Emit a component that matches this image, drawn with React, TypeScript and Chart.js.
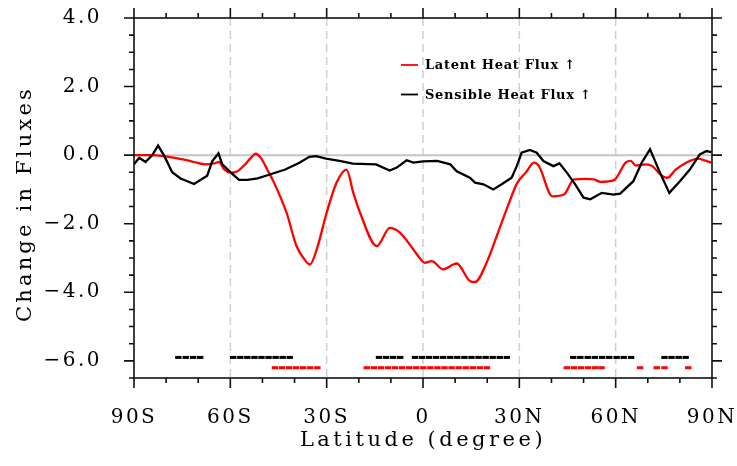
import { useEffect, useRef } from 'react';
import { Chart, registerables } from 'chart.js';

Chart.register(...registerables);

// ---------- data ----------
const latentLat = [
  -90, -85, -80.7, -74.4, -71.3, -67.7, -65.1, -63.5, -61.9, -59.9, -57.8, -55.7, -53.6, -52.1, -50.5,
  -48.5, -46.5, -42.5, -39.4, -37.3, -35.2, -33.1, -30.0, -26.9, -23.8, -21.7, -19.6, -14.4, -10.3,
  -7.2, -3.0, -0.6, 0.6, 2.7, 6.3, 9.4, 10.5, 14.6, 16.2, 19.8, 23.7, 26.8, 29.4, 32.0, 34.6, 36.1,
  40.3, 43.9, 47.0, 50.6, 53.3, 55.3, 59.5, 63.1, 64.7, 66.2, 69.4, 71.4, 74.5, 76.1, 78.7, 82.0,
  85.6, 88.2, 89.8,
];
const latentValues = [
  0.0, 0.0, -0.03, -0.13, -0.2, -0.27, -0.24, -0.2, -0.42, -0.51, -0.47, -0.3, -0.08, 0.04, -0.08,
  -0.42, -0.78, -1.68, -2.65, -2.99, -3.19, -2.75, -1.68, -0.8, -0.42, -1.1, -1.68, -2.65, -2.12,
  -2.26, -2.75, -3.05, -3.14, -3.09, -3.33, -3.19, -3.16, -3.67, -3.7, -3.14, -2.17, -1.39, -0.8,
  -0.51, -0.22, -0.32, -1.2, -1.15, -0.71, -0.69, -0.71, -0.78, -0.73, -0.22, -0.17, -0.3, -0.27,
  -0.32, -0.61, -0.66, -0.42, -0.22, -0.1, -0.17, -0.22,
];

const sensibleLat = [
  -90, -88.4, -86.4, -84.3, -82.5, -80.7, -78.1, -75.5, -73.4, -71.3, -69.2, -67.2, -65.6, -63.7,
  -62.5, -59.9, -57.3, -54.7, -51.5, -48.2, -42.9, -38.5, -35.4, -33.3, -30.2, -26.0, -21.8, -14.6,
  -10.4, -8.3, -5.1, -3.0, 0.0, 4.4, 8.5, 10.5, 14.6, 16.2, 18.8, 21.9, 24.5, 27.6, 29.2, 30.7,
  33.3, 35.4, 37.5, 40.6, 42.5, 44.8, 47.4, 50.0, 52.1, 55.7, 59.3, 61.4, 65.5, 68.1, 70.7, 73.8,
  76.7, 80.0, 83.1, 86.2, 88.3, 89.8,
];
const sensibleValues = [
  -0.27, -0.08, -0.2, 0.0, 0.28, 0.0, -0.5, -0.68, -0.76, -0.84, -0.72, -0.6, -0.17, 0.05, -0.27,
  -0.5, -0.72, -0.72, -0.68, -0.58, -0.42, -0.22, -0.05, -0.03, -0.1, -0.17, -0.25, -0.27, -0.45,
  -0.37, -0.15, -0.22, -0.18, -0.17, -0.27, -0.47, -0.66, -0.8, -0.85, -1.0, -0.85, -0.66, -0.32,
  0.07, 0.15, 0.07, -0.17, -0.32, -0.24, -0.51, -0.85, -1.24, -1.29, -1.1, -1.15, -1.12, -0.76,
  -0.22, 0.17, -0.51, -1.1, -0.76, -0.42, 0.02, 0.12, 0.09,
];

// significance markers (latitudes of significant grid points)
const latentSigLat = [
  -46.1, -43.9, -41.7, -39.5, -37.3, -35.1, -32.9,
  -17.5, -15.3, -13.1, -10.9, -8.7, -6.5, -4.3, -2.1, 0.1, 2.3, 4.5, 6.7, 8.9, 11.1, 13.3, 15.5, 17.7, 19.9,
  44.8, 47.0, 49.2, 51.4, 53.6, 55.6,
  67.6,
  72.8, 75.2,
  82.6,
];
const sensibleSigLat = [
  -76.2, -73.9, -71.6, -69.4,
  -59.1, -56.9, -54.7, -52.5, -50.3, -48.1, -45.9, -43.7, -41.5,
  -13.7, -11.5, -9.3, -7.1,
  -2.5, -0.3, 1.9, 4.1, 6.3, 8.5, 10.7, 12.9, 15.1, 17.3, 19.5, 21.7, 23.9, 26.1,
  46.8, 49.0, 51.3, 53.5, 55.8, 58.0, 60.3, 62.5, 64.8,
  75.2, 77.4, 79.6, 81.8,
];
const latentSigLevel = -6.2;
const sensibleSigLevel = -5.9;

const xTickValues = [-90, -60, -30, 0, 30, 60, 90];
const xTickLabels = ['90S', '60S', '30S', '0', '30N', '60N', '90N'];
const xMinorStep = 10;
const yTickValues = [-6, -4, -2, 0, 2, 4];
const yTickLabels = ['\u22126.0', '\u22124.0', '\u22122.0', '0.0', '2.0', '4.0'];
const yMinorStep = 0.5;
const xRange = [-90, 90];
const yRange = [-6.5, 4];

const xTitle = 'Latitude (degree)';
const yTitle = 'Change in Fluxes';
const seriesNames = ['Latent Heat Flux \u2191', 'Sensible Heat Flux \u2191'];
const seriesColors = ['#ff0000', '#000000'];

// ---------- styling ----------
const FONT = '"DejaVu Serif", serif';

const zeroPadding = (s: any) => {
  s.paddingTop = 0;
  s.paddingBottom = 0;
  s.paddingLeft = 0;
  s.paddingRight = 0;
};

const nclPlugin = {
  id: 'nclFrame',
  beforeLayout(chart: any) {
    chart.ctx.letterSpacing = '2.5px';
  },
  beforeDraw(chart: any) {
    chart.ctx.letterSpacing = '2.5px';
  },
  beforeDatasetsDraw(chart: any) {
    const { ctx, chartArea: a, scales } = chart;
    const x = scales.x;
    const y = scales.y;
    ctx.save();
    ctx.strokeStyle = '#d0d0d0';
    ctx.lineWidth = 1.5;
    ctx.setLineDash([8, 5]);
    for (const v of xTickValues) {
      if (v <= x.min || v >= x.max) continue;
      const px = x.getPixelForValue(v);
      ctx.beginPath();
      ctx.moveTo(px, a.top);
      ctx.lineTo(px, a.bottom);
      ctx.stroke();
    }
    ctx.setLineDash([]);
    ctx.strokeStyle = '#c4c4c4';
    ctx.lineWidth = 2;
    const py = y.getPixelForValue(0);
    ctx.beginPath();
    ctx.moveTo(a.left, py);
    ctx.lineTo(a.right, py);
    ctx.stroke();
    ctx.restore();
  },
  afterDatasetsDraw(chart: any) {
    const { ctx, chartArea: a, scales } = chart;
    const x = scales.x;
    const y = scales.y;
    ctx.save();
    ctx.setLineDash([]);
    ctx.strokeStyle = '#111';
    ctx.lineWidth = 1.6;
    ctx.strokeRect(a.left, a.top, a.right - a.left, a.bottom - a.top);
    for (let v = xRange[0]; v <= xRange[1] + 1e-9; v += xMinorStep) {
      const major = xTickValues.includes(v);
      const len = major ? 10 : 5;
      const px = x.getPixelForValue(v);
      ctx.beginPath();
      ctx.moveTo(px, a.bottom);
      ctx.lineTo(px, a.bottom + len);
      ctx.moveTo(px, a.top);
      ctx.lineTo(px, a.top - len);
      ctx.stroke();
    }
    for (let v = yRange[0]; v <= yRange[1] + 1e-9; v += yMinorStep) {
      const major = yTickValues.some((t) => Math.abs(t - v) < 1e-6);
      const len = major ? 10 : 5;
      const py = y.getPixelForValue(v);
      ctx.beginPath();
      ctx.moveTo(a.left, py);
      ctx.lineTo(a.left - len, py);
      ctx.moveTo(a.right, py);
      ctx.lineTo(a.right + len, py);
      ctx.stroke();
    }
    ctx.restore();
  },
  afterDraw(chart: any) {
    const { ctx, chartArea: a } = chart;
    ctx.save();
    ctx.fillStyle = '#000';
    ctx.font = `21px ${FONT}`;
    ctx.letterSpacing = '3.5px';
    ctx.textAlign = 'center';
    ctx.textBaseline = 'middle';
    ctx.fillText(xTitle, (a.left + a.right) / 2, 441);
    ctx.save();
    ctx.letterSpacing = '3.2px';
    ctx.translate(26, 204);
    ctx.rotate(-Math.PI / 2);
    ctx.fillText(yTitle, 0, 0);
    ctx.restore();
    const rows = [65, 94.5];
    ctx.font = `bold 13px ${FONT}`;
    ctx.letterSpacing = '0.7px';
    ctx.textAlign = 'left';
    ctx.textBaseline = 'middle';
    for (let i = 0; i < 2; i++) {
      const ds = chart.data.datasets[i];
      ctx.strokeStyle = ds.borderColor;
      ctx.lineWidth = 1.8;
      ctx.beginPath();
      ctx.moveTo(401, rows[i]);
      ctx.lineTo(418, rows[i]);
      ctx.stroke();
      ctx.fillStyle = '#000';
      ctx.fillText(ds.label, 425, rows[i] + 1);
    }
    ctx.restore();
  },
};

export default function App() {
  const ref = useRef<HTMLCanvasElement>(null);
  useEffect(() => {
    if (!ref.current) return;
    const chart = new Chart(ref.current, {
      type: 'line',
      data: {
        datasets: [
          {
            label: seriesNames[0],
            data: latentLat.map((v, i) => ({ x: v, y: latentValues[i] })),
            borderColor: seriesColors[0],
            backgroundColor: seriesColors[0],
            borderWidth: 2.3,
            pointRadius: 0,
            cubicInterpolationMode: 'monotone',
            order: 2,
          },
          {
            label: seriesNames[1],
            data: sensibleLat.map((v, i) => ({ x: v, y: sensibleValues[i] })),
            borderColor: seriesColors[1],
            backgroundColor: seriesColors[1],
            borderWidth: 2.3,
            pointRadius: 0,
            tension: 0,
            order: 1,
          },
          {
            label: '',
            data: latentSigLat.map((v) => ({ x: v, y: latentSigLevel })),
            showLine: false,
            pointStyle: 'line',
            pointRadius: 3.2,
            pointBorderWidth: 3,
            pointBorderColor: seriesColors[0],
            borderColor: seriesColors[0],
            backgroundColor: seriesColors[0],
            order: 0,
          },
          {
            label: '',
            data: sensibleSigLat.map((v) => ({ x: v, y: sensibleSigLevel })),
            showLine: false,
            pointStyle: 'line',
            pointRadius: 3.2,
            pointBorderWidth: 3,
            pointBorderColor: seriesColors[1],
            borderColor: seriesColors[1],
            backgroundColor: seriesColors[1],
            order: 0,
          },
        ],
      } as any,
      options: {
        responsive: false,
        animation: false,
        devicePixelRatio: 1,
        events: [],
        layout: { padding: { left: 0, right: 25, top: 18, bottom: 0 } },
        plugins: { legend: { display: false }, tooltip: { enabled: false } },
        scales: {
          x: {
            type: 'linear',
            min: xRange[0],
            max: xRange[1],
            afterBuildTicks: (s: any) => {
              s.ticks = xTickValues.map((v) => ({ value: v }));
            },
            afterFit: (s: any) => {
              s.height = 88;
              zeroPadding(s);
            },
            ticks: {
              callback: (_v: any, i: number) => xTickLabels[i],
              color: '#000',
              font: { family: FONT, size: 20 },
              padding: 20,
              maxRotation: 0,
              autoSkip: false,
            },
            grid: { display: false },
            border: { display: false },
          },
          y: {
            type: 'linear',
            min: yRange[0],
            max: yRange[1],
            afterBuildTicks: (s: any) => {
              s.ticks = yTickValues.map((v) => ({ value: v }));
            },
            afterFit: (s: any) => {
              s.width = 134;
              zeroPadding(s);
            },
            ticks: {
              callback: (_v: any, i: number) => yTickLabels[i],
              color: '#000',
              font: { family: FONT, size: 20 },
              padding: 24,
              autoSkip: false,
            },
            grid: { display: false },
            border: { display: false },
          },
        },
      } as any,
      plugins: [nclPlugin as any],
    });
    return () => chart.destroy();
  }, []);
  return (
    <div style={{ position: 'fixed', left: 0, top: 0, width: 737, height: 466, background: '#fff' }}>
      <canvas ref={ref} width={737} height={466} style={{ display: 'block' }} />
    </div>
  );
}
